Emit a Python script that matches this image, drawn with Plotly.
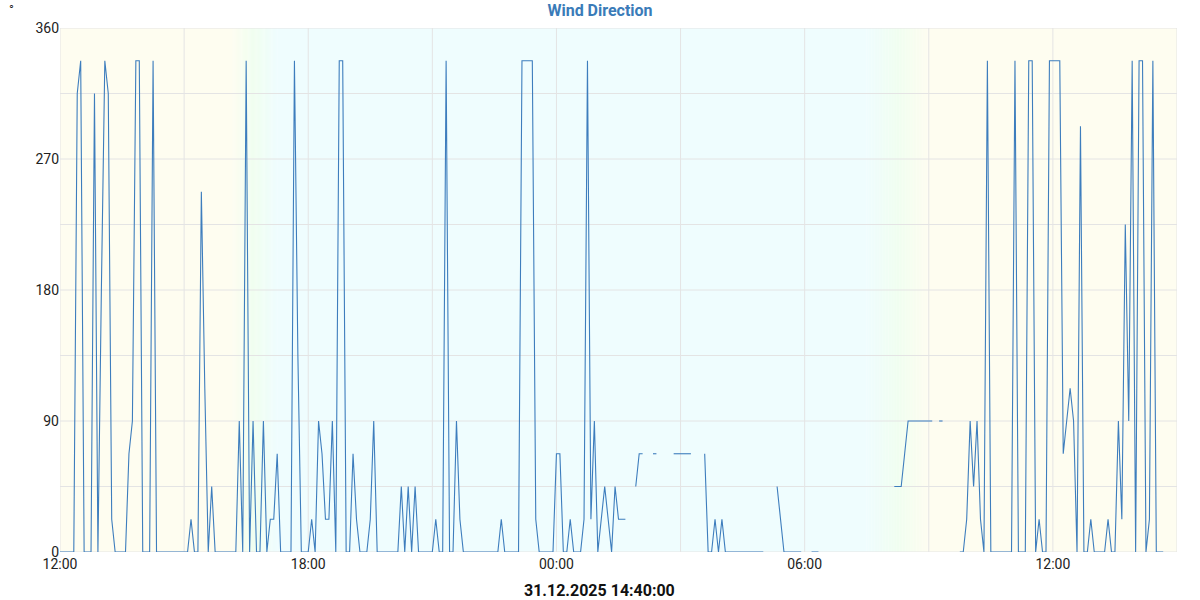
import plotly.graph_objects as go
import pandas as pd

# Wind direction samples every 5 minutes starting 30.12.2025 12:00 (None = no data)
start_time = "2025-12-30 12:00"
step_minutes = 5
wind_dir = [
    0, 0, 0, 0, 0, 315, 337.5, 0, 0, 0,
    315, 0, 180, 337.5, 315, 22.5, 0, 0, 0, 0,
    67.5, 90, 337.5, 337.5, 0, 0, 0, 337.5, 0, 0,
    0, 0, 0, 0, 0, 0, 0, 0, 22.5, 0,
    0, 247.5, 112.5, 0, 45, 0, 0, 0, 0, 0,
    0, 0, 90, 0, 337.5, 0, 90, 0, 0, 90,
    0, 22.5, 22.5, 67.5, 0, 0, 0, 0, 337.5, 135,
    0, 0, 0, 22.5, 0, 90, 67.5, 22.5, 22.5, 90,
    0, 337.5, 337.5, 0, 0, 67.5, 22.5, 0, 0, 0,
    22.5, 90, 0, 0, 0, 0, 0, 0, 0, 45,
    0, 45, 0, 45, 0, 0, 0, 0, 0, 22.5,
    0, 0, 337.5, 0, 0, 90, 22.5, 0, 0, 0,
    0, 0, 0, 0, 0, 0, 0, 0, 22.5, 0,
    0, 0, 0, 0, 337.5, 337.5, 337.5, 337.5, 22.5, 0,
    0, 0, 0, 0, 67.5, 67.5, 0, 0, 22.5, 0,
    0, 0, 22.5, 337.5, 22.5, 90, 0, 22.5, 45, 22.5,
    0, 45, 22.5, 22.5, 22.5, None, None, 45, 67.5, 67.5,
    None, None, 67.5, 67.5, None, None, None, None, 67.5, 67.5,
    67.5, 67.5, 67.5, 67.5, None, None, None, 67.5, 0, 0,
    22.5, 0, 22.5, 0, 0, 0, 0, 0, 0, 0,
    0, 0, 0, 0, 0, None, None, None, 45, 22.5,
    0, 0, 0, 0, 0, 0, None, None, 0, 0,
    0, None, None, None, None, None, None, None, None, None,
    None, None, None, None, None, None, None, None, None, None,
    None, None, 45, 45, 45, 67.5, 90, 90, 90, 90,
    90, 90, 90, 90, None, 90, 90, None, None, None,
    None, 0, 0, 22.5, 90, 45, 90, 22.5, 0, 337.5,
    0, 0, 0, 0, 0, 0, 0, 337.5, 0, 0,
    0, 337.5, 337.5, 0, 22.5, 0, 0, 337.5, 337.5, 337.5,
    337.5, 67.5, 90, 112.5, 90, 0, 292.5, 0, 0, 22.5,
    0, 0, 0, 0, 22.5, 0, 0, 90, 22.5, 225,
    90, 337.5, 0, 337.5, 337.5, 0, 22.5, 337.5, 0, 0,
    0,
]

x_range = ["2025-12-30 12:00", "2025-12-31 15:00"]
tick_vals = ["2025-12-30 12:00", "2025-12-30 18:00", "2025-12-31 00:00",
             "2025-12-31 06:00", "2025-12-31 12:00"]
tick_text = ["12:00", "18:00", "00:00", "06:00", "12:00"]
y_ticks = [0, 90, 180, 270, 360]
last_time_label = "31.12.2025 14:40:00"
unit_label = "°"
chart_title = "Wind Direction"

# day / night background (sunset and sunrise transitions)
sunset = ("2025-12-30 16:08", "2025-12-30 17:15")
sunrise = ("2025-12-31 07:30", "2025-12-31 09:00")
day_rgb = (254, 253, 240)
mid_rgb = (240, 254, 240)
night_rgb = (239, 253, 254)

times = pd.date_range(start_time, periods=len(wind_dir), freq=f"{step_minutes}min")

fig = go.Figure()
fig.add_trace(go.Scatter(
    x=times, y=wind_dir, mode="lines",
    line=dict(color="#3d7dbd", width=1.1),
    connectgaps=False, hoverinfo="x+y", showlegend=False,
))


def blend(a, b, f):
    return tuple(round(a[k] + (b[k] - a[k]) * f) for k in range(3))


def grad_color(f, reverse=False):
    if reverse:
        f = 1 - f
    if f < 0.5:
        c = blend(day_rgb, mid_rgb, f / 0.5)
    else:
        c = blend(mid_rgb, night_rgb, (f - 0.5) / 0.5)
    return "rgb(%d,%d,%d)" % c


shapes = []
x0 = pd.Timestamp(x_range[0])
x1 = pd.Timestamp(x_range[1])
ss0, ss1 = pd.Timestamp(sunset[0]), pd.Timestamp(sunset[1])
sr0, sr1 = pd.Timestamp(sunrise[0]), pd.Timestamp(sunrise[1])
n = 40


def rect(a, b, col):
    shapes.append(dict(type="rect", xref="x", yref="paper", x0=a, x1=b, y0=0, y1=1,
                       fillcolor=col, line=dict(width=0), layer="below"))


rect(x0, ss0, "rgb(%d,%d,%d)" % day_rgb)
for k in range(n):
    a = ss0 + (ss1 - ss0) * k / n
    b = ss0 + (ss1 - ss0) * (k + 1) / n + pd.Timedelta(seconds=20)
    rect(a, b, grad_color((k + 0.5) / n))
rect(ss1, sr0, "rgb(%d,%d,%d)" % night_rgb)
for k in range(n):
    a = sr0 + (sr1 - sr0) * k / n
    b = sr0 + (sr1 - sr0) * (k + 1) / n + pd.Timedelta(seconds=20)
    rect(a, b, grad_color((k + 0.5) / n, reverse=True))
rect(sr1, x1, "rgb(%d,%d,%d)" % day_rgb)

# grid lines drawn over the background
for h in range(0, 28, 3):
    t = x0 + pd.Timedelta(hours=h)
    shapes.append(dict(type="line", xref="x", yref="paper", x0=t, x1=t, y0=0, y1=1,
                       line=dict(color="#e4e4e4", width=1), layer="below"))
for v in range(0, 361, 45):
    shapes.append(dict(type="line", xref="paper", yref="y", x0=0, x1=1, y0=v, y1=v,
                       line=dict(color="#e4e4e4", width=1), layer="below"))

fig.update_layout(
    width=1200, height=600,
    margin=dict(l=60, r=23, t=28, b=48, autoexpand=False),
    paper_bgcolor="white", plot_bgcolor="white",
    font=dict(family="Roboto", size=14, color="#222"),
    title=dict(text="<b>" + chart_title + "</b>", x=0.5, xanchor="center",
               y=0.982, yanchor="middle",
               font=dict(family="Roboto", size=16, color="#3a7bb8")),
    shapes=shapes,
    showlegend=False,
    annotations=[
        dict(text=unit_label, xref="paper", yref="paper", x=-0.043, y=1.0534,
             xanchor="center", yanchor="top", showarrow=False,
             font=dict(family="Roboto", size=13, color="#222")),
        dict(text="<b>" + last_time_label + "</b>", xref="paper", yref="paper",
             x=0.4834, y=-0.0735, xanchor="center", yanchor="middle", showarrow=False,
             font=dict(family="Roboto", size=16, color="#111")),
    ],
)
fig.update_xaxes(
    range=x_range, tickvals=tick_vals, ticktext=tick_text,
    showgrid=False, zeroline=False, showline=False, ticks="",
    ticklabelstandoff=2, automargin=False,
    tickfont=dict(size=14, color="#222"),
)
fig.update_yaxes(
    range=[0, 360], tickvals=y_ticks, ticks="",
    showgrid=False, zeroline=False, automargin=False,
    showline=False, tickfont=dict(size=14, color="#222"),
)

fig.write_html("out.html", config={"displayModeBar": False},
               post_script="document.body.style.margin='0px';")
